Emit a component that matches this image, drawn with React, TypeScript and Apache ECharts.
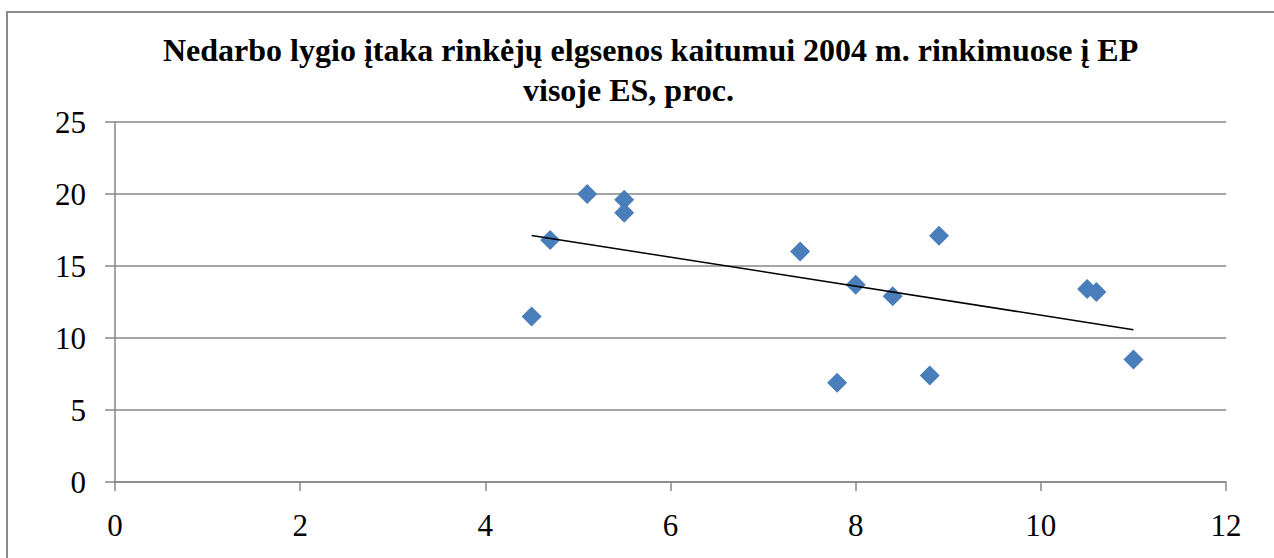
import React, { useEffect, useRef } from "react";
import * as echarts from "echarts";

const titleLine1 = "Nedarbo lygio įtaka rinkėjų elgsenos kaitumui 2004 m. rinkimuose į EP";
const titleLine2 = "visoje ES, proc.";
const unemployment = [4.5, 4.7, 5.1, 5.5, 5.5, 7.4, 8.0, 7.8, 8.4, 8.9, 8.8, 10.5, 10.6, 11.0];
const volatility = [11.5, 16.8, 20.0, 19.6, 18.7, 16.0, 13.7, 6.9, 12.9, 17.1, 7.4, 13.4, 13.2, 8.5];
const xTicks = [0, 2, 4, 6, 8, 10, 12];
const yTicks = [0, 5, 10, 15, 20, 25];

function linearTrend(xs: number[], ys: number[]) {
  const n = xs.length;
  const mx = xs.reduce((a, b) => a + b, 0) / n;
  const my = ys.reduce((a, b) => a + b, 0) / n;
  let sxy = 0;
  let sxx = 0;
  for (let i = 0; i < n; i++) {
    sxy += (xs[i] - mx) * (ys[i] - my);
    sxx += (xs[i] - mx) * (xs[i] - mx);
  }
  const slope = sxy / sxx;
  const intercept = my - slope * mx;
  const x0 = Math.min(...xs);
  const x1 = Math.max(...xs);
  return [
    [x0, intercept + slope * x0],
    [x1, intercept + slope * x1],
  ];
}

export default function App() {
  const ref = useRef<HTMLDivElement>(null);
  useEffect(() => {
    if (!ref.current) return;
    const chart = echarts.init(ref.current, undefined, { renderer: "svg" });
    const font = "'Liberation Serif', 'Times New Roman', serif";
    const gray = "#878787";
    const titleStyle = {
      fontFamily: font,
      fontWeight: "bold",
      fontSize: 32,
      lineHeight: 37,
      color: "#000",
    };
    chart.setOption({
      animation: false,
      backgroundColor: "#ffffff",
      title: [
        { text: titleLine1, left: 158, top: 26, textStyle: titleStyle },
        { text: titleLine2, left: 518, top: 66, textStyle: titleStyle },
      ],
      graphic: [
        {
          type: "rect",
          shape: { x: 7, y: 12, width: 1400, height: 700 },
          style: { fill: "none", stroke: "#8a8a8a", lineWidth: 2 },
          silent: true,
        },
      ],
      grid: { left: 115, right: 48, top: 122, bottom: 76 },
      xAxis: {
        type: "value",
        min: xTicks[0],
        max: xTicks[xTicks.length - 1],
        interval: 2,
        splitLine: { show: false },
        axisLine: { show: true, lineStyle: { color: gray, width: 1.5 } },
        axisTick: { show: true, inside: false, length: 9, lineStyle: { color: gray, width: 1.5 } },
        axisLabel: { margin: 28, fontFamily: font, fontSize: 31, color: "#000" },
      },
      yAxis: {
        type: "value",
        min: yTicks[0],
        max: yTicks[yTicks.length - 1],
        interval: 5,
        splitLine: { show: true, lineStyle: { color: gray, width: 1.5 } },
        axisLine: { show: true, lineStyle: { color: gray, width: 1.5 } },
        axisTick: { show: true, inside: false, length: 10, lineStyle: { color: gray, width: 1.5 } },
        axisLabel: { margin: 29, fontFamily: font, fontSize: 31, color: "#000" },
      },
      series: [
        {
          type: "scatter",
          data: unemployment.map((x, i) => [x, volatility[i]]),
          symbol: "diamond",
          symbolSize: [20, 20],
          itemStyle: { color: "#4a7ebb", opacity: 1 },
          z: 3,
        },
        {
          type: "line",
          data: linearTrend(unemployment, volatility),
          symbol: "none",
          lineStyle: { color: "#000", width: 1.5 },
          z: 4,
        },
      ],
    });
    return () => chart.dispose();
  }, []);
  return <div ref={ref} style={{ position: "fixed", left: 0, top: 0, width: 1274, height: 558 }} />;
}
